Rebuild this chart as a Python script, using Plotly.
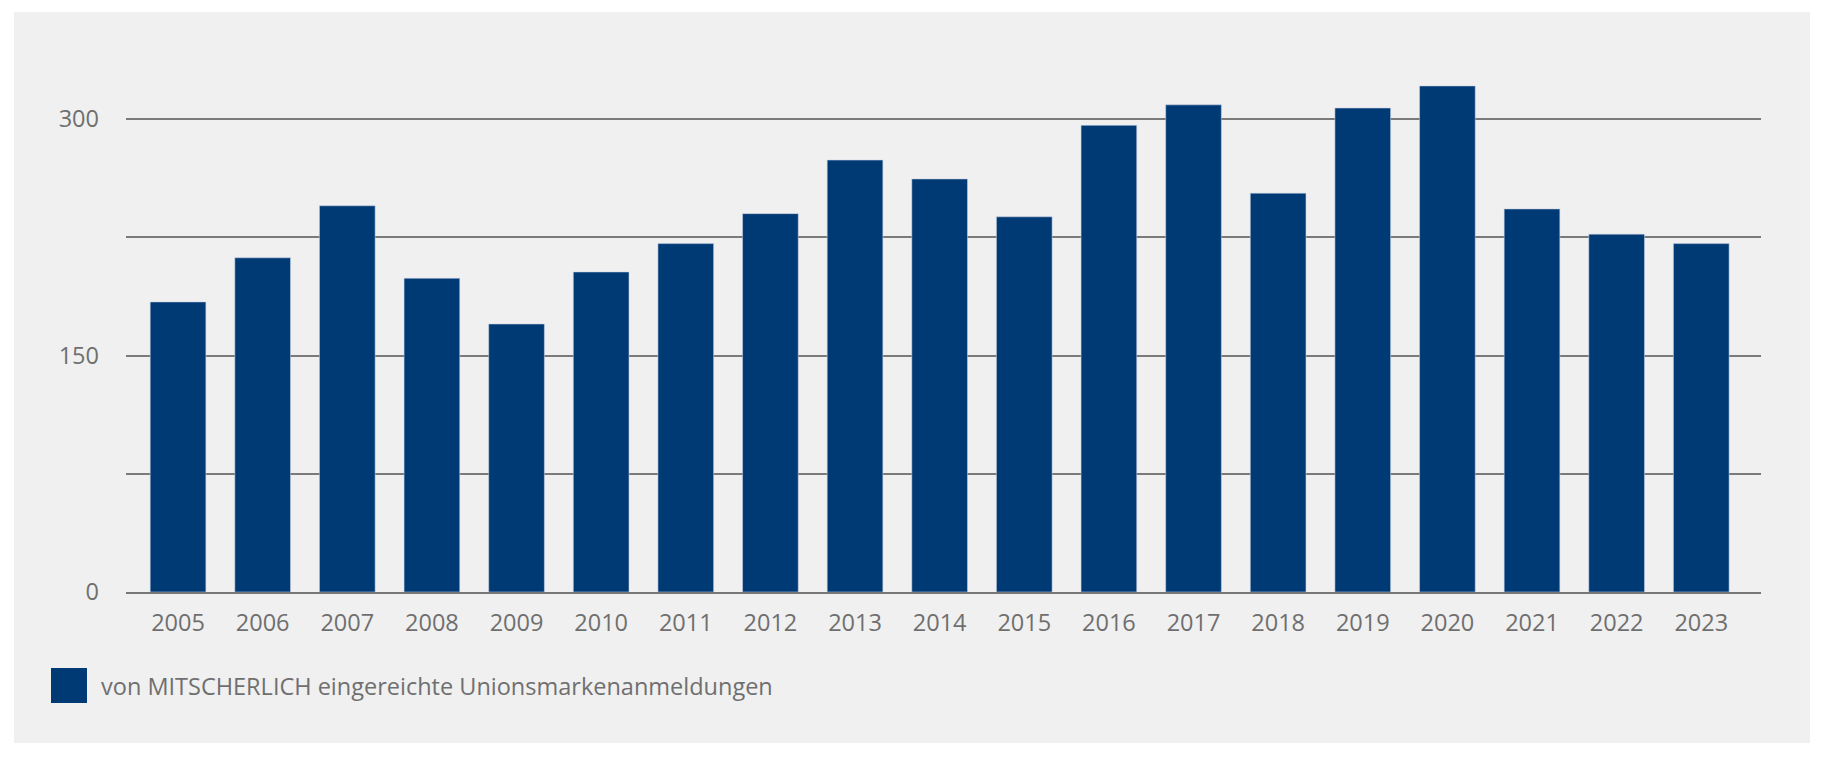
import plotly.graph_objects as go

years = ["2005", "2006", "2007", "2008", "2009", "2010", "2011", "2012", "2013", "2014",
         "2015", "2016", "2017", "2018", "2019", "2020", "2021", "2022", "2023"]
values = [184, 212, 245, 199, 170, 203, 221, 240, 274, 262,
          238, 296, 309, 253, 307, 321, 243, 227, 221]
series_name = "von MITSCHERLICH eingereichte Unionsmarkenanmeldungen"
y_tickvals = [0, 75, 150, 225, 300]
y_ticktext = ["0", "", "150", "", "300"]

OFF = 8  # page body margin
W, H = 1822 - OFF, 757 - OFF
L, R, T, B = 126 - OFF, 61, 56 - OFF, 165
pw, ph = W - L - R, H - T - B

def px_x(x):
    return (x - OFF - L) / pw

def px_y(y):
    return (H - B - (y - OFF)) / ph

BAR = "#003a75"
GRAY_TXT = "#6f6f6f"
FONT = "Open Sans"

fig = go.Figure()
fig.add_trace(go.Bar(
    x=years, y=values, width=0.658,
    marker=dict(color=BAR, line=dict(color="rgba(200,210,230,0.55)", width=1)),
    name=series_name, showlegend=False,
))

shapes = [
    dict(type="rect", xref="paper", yref="paper", layer="below",
         x0=px_x(14), x1=px_x(1810), y0=px_y(743), y1=px_y(12),
         fillcolor="#f0f0f0", line=dict(width=0)),
    dict(type="rect", xref="paper", yref="paper",
         x0=px_x(51), x1=px_x(87), y0=px_y(703), y1=px_y(668),
         fillcolor=BAR, line=dict(width=0)),
]

fig.update_layout(
    width=W, height=H,
    margin=dict(l=L, r=R, t=T, b=B),
    paper_bgcolor="white",
    plot_bgcolor="rgba(0,0,0,0)",
    font=dict(family=FONT, color=GRAY_TXT, size=22),
    shapes=shapes,
    annotations=[dict(xref="paper", yref="paper", x=px_x(99), y=px_y(686),
                      xanchor="left", yanchor="middle", showarrow=False,
                      text=series_name, font=dict(family=FONT, size=23.5, color=GRAY_TXT))],
    bargap=0.3,
)
fig.update_xaxes(
    type="category", range=[-0.615, 18.706],
    showgrid=False, showline=True, linecolor="#777777", linewidth=2,
    ticks="", tickfont=dict(size=23.5, color=GRAY_TXT), ticklabelstandoff=9,
)
fig.update_yaxes(
    range=[0, 340], tickvals=y_tickvals, ticktext=y_ticktext,
    showgrid=True, gridcolor="#7a7a7a", gridwidth=1.6,
    zeroline=False, showline=False, ticks="",
    tickfont=dict(size=23.5, color=GRAY_TXT), ticklabelstandoff=26,
)

fig.write_html("out.html")
